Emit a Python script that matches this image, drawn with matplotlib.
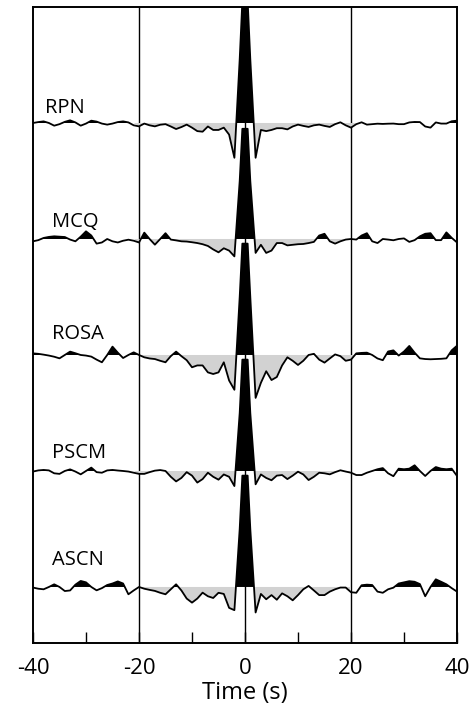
import numpy as np
import matplotlib
matplotlib.use("Agg")
import matplotlib.pyplot as plt

plt.rcParams['font.family'] = ['Open Sans', 'DejaVu Sans']
plt.rcParams['axes.unicode_minus'] = False

# sample times (s): 1 s steps, plus half-second samples around the zero-lag peak
time = np.r_[np.arange(-40, 0), -0.5, 0.0, 0.5, np.arange(1, 41)]

stations = ["RPN", "MCQ", "ROSA", "PSCM", "ASCN"]

rpn = [0.0, 0.008, 0.014, 0.0, -0.023, -0.01, 0.01, 0.023, 0.005, -0.023,
       -0.005, 0.02, 0.012, -0.005, -0.014, -0.005, 0.008, 0.014, 0.005, -0.02,
       -0.029, -0.005, -0.02, -0.029, -0.015, -0.01, -0.03, -0.052, -0.035, -0.014,
       -0.04, -0.07, -0.075, -0.03, -0.06, -0.06, -0.04, -0.1, -0.30, 0.55,
       1.05, 1.05, 1.05,
       0.55, -0.30, -0.06, -0.07, -0.06, -0.045, -0.045, -0.055, -0.03, -0.014,
       -0.025, -0.034, -0.02, -0.014, -0.025, -0.034, -0.01, 0.006, -0.02, -0.04,
       -0.01, 0.006, -0.014, -0.01, -0.006, -0.008, -0.006, -0.005, -0.01, -0.01,
       0.005, 0.009, 0.008, -0.03, -0.04, 0.005, -0.005, -0.005, 0.015, 0.02]

mcq = [-0.02, -0.01, 0.009, 0.018, 0.023, 0.02, 0.017, -0.005, -0.02, 0.02,
       0.066, 0.03, -0.04, -0.03, 0.0, -0.02, -0.03, -0.015, -0.006, -0.015,
       -0.03, 0.055, 0.0, -0.049, 0.0, 0.05, -0.005, -0.012, -0.02, -0.022,
       -0.028, -0.035, -0.045, -0.06, -0.09, -0.115, -0.08, -0.1, -0.15, 0.5,
       0.95, 0.95, 0.95,
       0.5, -0.12, -0.05, -0.12, -0.1, -0.035, -0.035, -0.055, -0.05, -0.045,
       -0.043, -0.035, -0.025, 0.03, 0.045, -0.02, -0.04, -0.02, -0.005, 0.0,
       -0.005, 0.03, 0.05, -0.02, -0.035, 0.0, -0.005, -0.011, 0.0, 0.005,
       -0.025, -0.01, 0.023, 0.045, 0.05, -0.01, -0.01, 0.057, 0.01, -0.03]

rosa = [0.014, 0.01, 0.003, -0.005, -0.015, -0.029, 0.0, 0.029, 0.015, 0.0,
        -0.005, -0.014, -0.04, -0.063, 0.0, 0.072, 0.02, -0.026, 0.0, 0.023,
        0.0, -0.02, -0.03, -0.035, -0.05, -0.063, -0.01, 0.029, -0.01, -0.045,
        -0.106, -0.09, -0.09, -0.15, -0.164, -0.15, -0.063, -0.22, -0.3, 0.5,
        0.96, 0.96, 0.96,
        0.5, -0.37, -0.24, -0.14, -0.216, -0.19, -0.09, -0.02, -0.05, -0.086,
        -0.05, 0.0, 0.01, -0.04, -0.066, -0.03, 0.005, -0.01, -0.05, -0.04,
        0.014, 0.018, 0.02, 0.0, -0.03, -0.045, 0.03, 0.04, -0.005, 0.03,
        0.078, 0.02, -0.029, -0.035, -0.037, -0.035, -0.033, -0.029, 0.04, 0.08]

pscm = [-0.005, 0.005, 0.009, 0.005, -0.02, -0.025, 0.0, 0.014, -0.005, -0.029,
        0.0, 0.029, -0.01, -0.015, 0.005, 0.009, 0.004, 0.0, -0.005, -0.015,
        -0.025, -0.025, -0.01, 0.003, 0.008, 0.0, -0.05, -0.09, -0.06, -0.01,
        -0.04, -0.1, -0.07, -0.015, -0.05, -0.075, -0.03, -0.05, -0.13, 0.5,
        0.96, 0.96, 0.96,
        0.5, -0.115, -0.03, -0.06, -0.08, -0.04, -0.035, -0.07, -0.04, -0.006,
        -0.03, -0.078, -0.05, -0.015, -0.02, -0.029, -0.01, 0.006, -0.005, -0.015,
        -0.035, -0.035, -0.015, 0.0, 0.015, 0.025, -0.02, -0.045, 0.02, 0.015,
        0.02, 0.049, 0.0, -0.043, 0.0, 0.034, 0.02, 0.015, 0.02, -0.043]

ascn = [-0.005, -0.015, -0.02, 0.0, 0.023, 0.0, -0.035, -0.03, 0.02, 0.052,
        0.04, 0.0, -0.029, -0.01, 0.017, 0.03, 0.048, 0.03, -0.063, -0.03,
        0.0, -0.015, -0.025, -0.034, -0.05, -0.063, -0.02, 0.023, -0.03, -0.1,
        -0.135, -0.1, -0.049, -0.08, -0.095, -0.05, -0.06, -0.18, -0.2, 0.5,
        0.96, 0.96, 0.96,
        0.5, -0.22, -0.06, -0.106, -0.07, -0.11, -0.055, -0.08, -0.115, -0.07,
        -0.02, 0.009, -0.03, -0.07, -0.07, -0.04, -0.02, -0.005, -0.005, -0.045,
        -0.05, 0.015, 0.02, 0.017, -0.04, -0.05, -0.02, -0.006, 0.03, 0.04,
        0.05, 0.045, 0.025, -0.08, 0.0, 0.066, 0.045, 0.023, -0.01, -0.04]

traces = [rpn, mcq, rosa, pscm, ascn]
offsets = [5, 4, 3, 2, 1]
label_x = [-37.7, -36.4, -36.4, -36.4, -36.4]
label_dy = [0.09, 0.10, 0.14, 0.11, 0.19]

fig = plt.figure(figsize=(4.77, 7.13), dpi=100)
ax = fig.add_axes([33/477, 70/713, 424/477, 636/713])

for i, (name, tr, off) in enumerate(zip(stations, traces, offsets)):
    y = np.array(tr)
    z = 10 - i
    ax.fill_between(time, off, off + y, where=(y < 0) & (np.abs(time) <= 20),
                    interpolate=True, color='#d2d2d2', lw=0, zorder=z)
    ax.fill_between(time, off, off + y, where=(y > 0), interpolate=True,
                    color='black', lw=0, zorder=z)
    ax.plot(time, off + y, color='black', lw=1.3, zorder=z)
    ax.text(label_x[i], off + label_dy[i], name, fontsize=14.5,
            ha='left', va='baseline', zorder=20)

for xv in (-20, 0, 20):
    ax.axvline(xv, color='black', lw=1.0, zorder=1)

ax.set_xlim(-40, 40)
ax.set_ylim(0.517, 6.0)
ax.set_yticks([])
ax.set_xticks([-40, -20, 0, 20, 40])
ax.set_xticks([-30, -10, 10, 30], minor=True)
ax.tick_params(axis='x', which='both', direction='in', length=8, width=1.0,
               labelsize=16, pad=10.5)
ax.set_xlabel('Time (s)', fontsize=17, labelpad=2)
for s in ax.spines.values():
    s.set_linewidth(1.4)

fig.savefig('out.png', dpi=100)
